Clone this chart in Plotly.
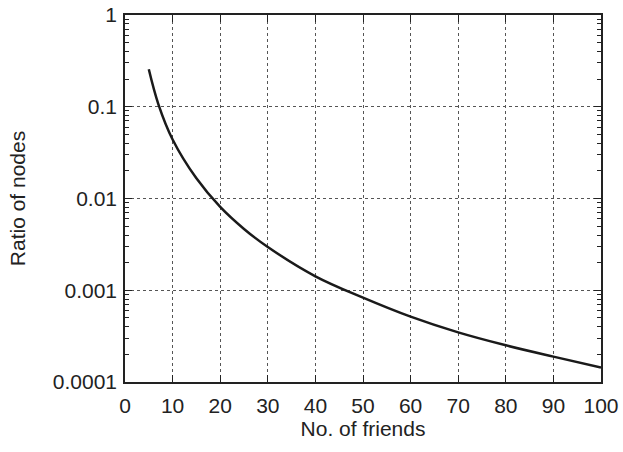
import plotly.graph_objects as go

friends = [5, 7, 10, 15, 20, 25, 30, 40, 50, 60, 70, 80, 90, 100]
ratio = [0.256, 0.107, 0.044, 0.0166, 0.0081, 0.00466, 0.00296, 0.00142,
         0.00083, 0.000515, 0.000347, 0.000251, 0.000189, 0.000144]

x_ticks = list(range(0, 101, 10))
y_ticks = [0.0001, 0.001, 0.01, 0.1, 1]
y_labels = ["0.0001", "0.001", "0.01", "0.1", "1"]
y_minor = [m * d for d in [0.0001, 0.001, 0.01, 0.1] for m in range(2, 10)]

font = dict(family="Liberation Sans, Arial, sans-serif", size=21, color="#222222")

fig = go.Figure()
fig.add_trace(go.Scatter(x=friends, y=ratio, mode="lines",
                         line=dict(color="#1a1a1a", width=2.5, shape="spline"),
                         showlegend=False))

fig.update_layout(
    width=623, height=452,
    margin=dict(l=125, r=22, t=15, b=70),
    paper_bgcolor="white", plot_bgcolor="white",
    font=font,
)
fig.update_xaxes(
    range=[0, 100], tickvals=x_ticks, ticktext=[str(v) for v in x_ticks],
    title=dict(text="No. of friends", font=font, standoff=4),
    showline=True, linecolor="#222222", linewidth=1.5, mirror="allticks",
    ticks="inside", ticklen=7, tickcolor="#222222", ticklabelstandoff=4,
    ticklabeloverflow="allow",
    showgrid=True, gridcolor="#555555", griddash="dot", gridwidth=1,
    zeroline=False, automargin=False,
)
fig.update_yaxes(
    type="log", range=[-4, 0], tickvals=y_ticks, ticktext=y_labels,
    title=dict(text="Ratio of nodes", font=font, standoff=21),
    showline=True, linecolor="#222222", linewidth=1.5, mirror="allticks",
    ticks="inside", ticklen=7, tickcolor="#222222", ticklabelstandoff=2,
    ticklabeloverflow="allow",
    minor=dict(tickvals=y_minor, ticks="inside", ticklen=4,
               tickcolor="#222222", showgrid=False),
    showgrid=True, gridcolor="#555555", griddash="dot", gridwidth=1,
    zeroline=False, automargin=False,
)
fig.write_html("out.html", config={"displayModeBar": False},
               post_script="document.body.style.margin='0';document.body.style.overflow='hidden';")
